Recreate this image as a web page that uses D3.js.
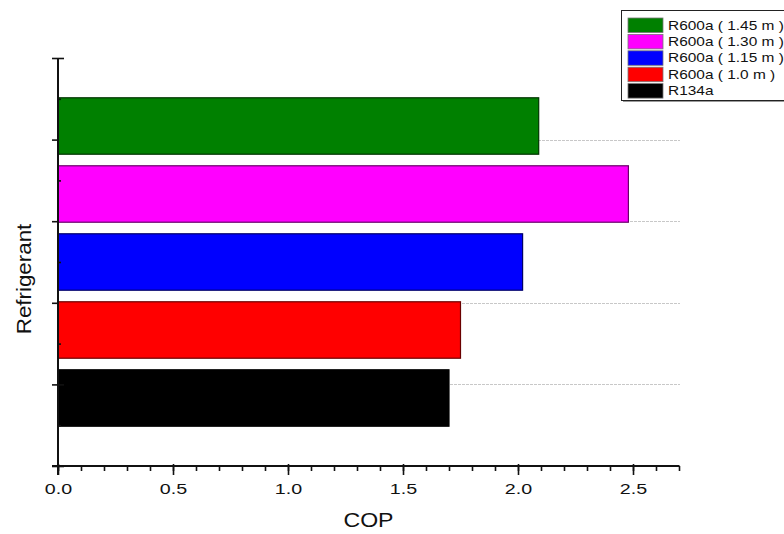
<!DOCTYPE html>
<html>
<head>
<meta charset="utf-8">
<script src="https://cdn.jsdelivr.net/npm/d3@7"></script>
<style>
  html, body { margin: 0; padding: 0; background: #fff; }
  svg { display: block; font-family: "Liberation Sans", Arial, sans-serif; }
</style>
</head>
<body>
<svg id="chart" width="784" height="534"></svg>
<script>
// Refrigerants, bottom to top
const refrigerants = ["R134a", "R600a ( 1.0 m )", "R600a ( 1.15 m )", "R600a ( 1.30 m )", "R600a ( 1.45 m )"];
const copValues = [1.70, 1.75, 2.02, 2.48, 2.09];
const barColors = ["#000000", "#ff0000", "#0000ff", "#ff00ff", "#008000"];
const xTicks = [0, 0.5, 1.0, 1.5, 2.0, 2.5];
const yTicks = [0, 1.2, 2.4, 3.6, 4.8, 6.0];

const svg = d3.select("#chart");
const plot = { left: 58, right: 679, top: 58, bottom: 466 };

const x = d3.scaleLinear().domain([0, 2.7]).range([plot.left, plot.right]);
// Bars sit at positions 1..5 on a continuous vertical axis
const y = d3.scaleLinear().domain([0, 6]).range([plot.bottom, plot.top]);
const barHeight = (y(0) - y(0.83));

const data = refrigerants.map((name, i) => ({ name, cop: copValues[i], color: barColors[i], pos: i + 1 }));

// Dashed grid lines at the major vertical-axis ticks
svg.append("g")
  .selectAll("line")
  .data(yTicks.slice(1, -1))
  .join("line")
  .attr("x1", plot.left).attr("x2", plot.right + 1)
  .attr("y1", d => Math.round(y(d)) + 0.5).attr("y2", d => Math.round(y(d)) + 0.5)
  .attr("stroke", "#c8c8c8")
  .attr("stroke-width", 1)
  .attr("stroke-dasharray", "3,1");

// Bars
svg.append("g")
  .selectAll("rect")
  .data(data)
  .join("rect")
  .attr("x", x(0))
  .attr("y", d => y(d.pos) - barHeight / 2)
  .attr("width", d => x(d.cop) - x(0))
  .attr("height", barHeight)
  .attr("fill", d => d.color)
  .attr("stroke", d => d3.color(d.color).darker(2.5))
  .attr("stroke-width", 1.2);

// Bottom axis with minor ticks
const xMinor = d3.range(0, 2.71, 0.1).map(v => +v.toFixed(1));
const gx = svg.append("g").attr("transform", `translate(0,${plot.bottom})`);
gx.append("g")
  .call(d3.axisBottom(x).tickValues(xMinor).tickSize(5).tickFormat(""))
  .call(g => g.select(".domain").remove())
  .selectAll("line").attr("stroke", "#111").attr("stroke-width", 1.6);
gx.append("g")
  .call(d3.axisBottom(x).tickValues(xTicks).tickSize(9).tickSizeOuter(0).tickPadding(8)
    .tickFormat(d3.format(".1f")))
  .call(g => g.select(".domain").attr("stroke", "#111").attr("stroke-width", 2)
    .attr("d", `M${plot.left - 6},0H${plot.right + 0.5}`))
  .call(g => g.selectAll(".tick line").attr("stroke", "#111").attr("stroke-width", 1.6).attr("y1", -2))
  .call(g => g.selectAll(".tick text")
    .attr("font-size", 15.5).attr("fill", "#111")
    .attr("font-family", "'Liberation Sans', Arial, sans-serif")
    .attr("y", 0).attr("dy", 0)
    .attr("transform", "translate(0,28) scale(1.27,1)"));

// Left axis: major ticks cross the line, minor ticks point inward
const yMinor = d3.range(0, 5).map(i => (yTicks[i] + yTicks[i + 1]) / 2);
const gy = svg.append("g").attr("transform", `translate(${plot.left},0)`);
gy.append("g")
  .call(d3.axisLeft(y).tickValues(yMinor).tickSize(-3).tickFormat(""))
  .call(g => g.select(".domain").remove())
  .selectAll("line").attr("stroke", "#111").attr("stroke-width", 1.6);
gy.append("g")
  .call(d3.axisLeft(y).tickValues(yTicks).tickSize(6).tickSizeOuter(0).tickFormat(""))
  .call(g => g.select(".domain").attr("stroke", "#111").attr("stroke-width", 2)
    .attr("d", `M0,${plot.top}V${plot.bottom + 9}`))
  .call(g => g.selectAll(".tick line").attr("stroke", "#111").attr("stroke-width", 1.6).attr("x2", d => (d === 0 || d === 6 || d === 1.2) ? 6 : 0).attr("x1", -6));

// Axis titles
svg.append("text")
  .attr("transform", `translate(${(plot.left + plot.right) / 2},527) scale(1.1,1)`)
  .attr("text-anchor", "middle")
  .attr("font-size", 21)
  .attr("fill", "#111")
  .text("COP");

svg.append("text")
  .attr("transform", "translate(31,279) rotate(-90) scale(1.09,1)")
  .attr("text-anchor", "middle")
  .attr("font-size", 20.5)
  .attr("fill", "#111")
  .text("Refrigerant");

// Legend, listed top to bottom
const legend = svg.append("g");
legend.append("rect")
  .attr("x", 623).attr("y", 12).attr("width", 180).attr("height", 90)
  .attr("fill", "#9a9a9a");
legend.append("rect")
  .attr("x", 621.5).attr("y", 10.5).attr("width", 180).attr("height", 90)
  .attr("fill", "#fff").attr("stroke", "#222").attr("stroke-width", 1);

const legendItems = data.slice().reverse();
const rows = legend.selectAll("g.item")
  .data(legendItems)
  .join("g")
  .attr("class", "item")
  .attr("transform", (d, i) => `translate(628,${18 + i * 16.4})`);
rows.append("rect")
  .attr("width", 35).attr("height", 14.5)
  .attr("fill", d => d.color)
  .attr("stroke", "#777").attr("stroke-width", 0.8);
rows.append("text")
  .attr("transform", "translate(40,11.5) scale(1.17,1)")
  .attr("font-size", 13.2)
  .attr("fill", "#111")
  .text(d => d.name);
</script>
</body>
</html>
